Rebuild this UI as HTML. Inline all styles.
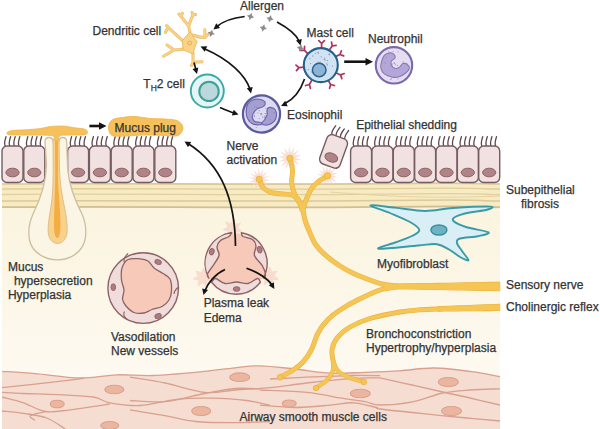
<!DOCTYPE html><html><head><meta charset="utf-8"><style>html,body{margin:0;padding:0;background:#fff;overflow:hidden}svg{display:block}text{font-family:"Liberation Sans",sans-serif;stroke:#333;stroke-width:0.25px}</style></head><body><svg width="600" height="429" viewBox="0 0 600 429" font-family="Liberation Sans, sans-serif" font-size="12" fill="#333333"><rect x="0" y="0" width="600" height="429" fill="#ffffff"/><defs><linearGradient id="cg" x1="0" y1="0" x2="0" y2="1"><stop offset="0" stop-color="#fbf3dd"/><stop offset="0.4" stop-color="#fcf6e6"/><stop offset="1" stop-color="#fefcf8"/></linearGradient></defs><rect x="2" y="183" width="498" height="246" fill="url(#cg)"/><rect x="2" y="183" width="498" height="25" fill="#f7ebc4"/><path d="M2 184 C120 182.8 250 185.2 380 183.6 S470 184.4 500 184" stroke="#dcc898" stroke-width="1.6" fill="none"/><path d="M2 189 C120 187.8 250 190.2 380 188.6 S470 189.4 500 189" stroke="#e0cc9c" stroke-width="1.4" fill="none"/><path d="M2 194.5 C120 193.3 250 195.7 380 194.1 S470 194.9 500 194.5" stroke="#e2cf9f" stroke-width="1.3" fill="none"/><path d="M2 201 C120 199.8 250 202.2 380 200.6 S470 201.4 500 201" stroke="#dcc898" stroke-width="1.5" fill="none"/><path d="M2 207.2 C120 206.0 250 208.39999999999998 380 206.79999999999998 S470 207.6 500 207.2" stroke="#d3bd92" stroke-width="1.8" fill="none"/><path d="M330 192 C380 196 430 199 500 196" stroke="#e6d3a0" stroke-width="1" fill="none"/><path d="M2.0 371.3 C7.5 371.7 22.0 372.6 35.0 373.7 C48.0 374.8 66.4 377.8 80.0 378.0 C93.6 378.2 104.5 375.2 116.7 374.8 C128.9 374.4 139.4 376.0 153.3 375.5 C167.2 375.0 186.4 373.1 200.0 371.8 C213.6 370.5 225.0 368.8 235.0 367.8 C245.0 366.8 250.0 365.6 260.0 365.8 C270.0 366.0 283.3 367.8 295.0 369.0 C306.7 370.2 318.3 372.6 330.0 373.2 C341.7 373.8 353.3 372.7 365.0 372.3 C376.7 371.9 388.5 371.5 400.0 370.8 C411.5 370.1 421.3 367.8 434.2 368.0 C447.1 368.2 466.5 370.9 477.5 372.3 C488.5 373.8 496.2 376.0 500.0 376.7 L500 429 L2 429 Z" fill="#f5ddd2"/><path d="M2.0 371.3 C7.5 371.7 22.0 372.6 35.0 373.7 C48.0 374.8 66.4 377.8 80.0 378.0 C93.6 378.2 104.5 375.2 116.7 374.8 C128.9 374.4 139.4 376.0 153.3 375.5 C167.2 375.0 186.4 373.1 200.0 371.8 C213.6 370.5 225.0 368.8 235.0 367.8 C245.0 366.8 250.0 365.6 260.0 365.8 C270.0 366.0 283.3 367.8 295.0 369.0 C306.7 370.2 318.3 372.6 330.0 373.2 C341.7 373.8 353.3 372.7 365.0 372.3 C376.7 371.9 388.5 371.5 400.0 370.8 C411.5 370.1 421.3 367.8 434.2 368.0 C447.1 368.2 466.5 370.9 477.5 372.3 C488.5 373.8 496.2 376.0 500.0 376.7" stroke="#d9a08d" stroke-width="1.3" fill="none"/><path d="M2.0 387.7 C7.5 387.1 23.7 385.4 35.0 384.2 C46.3 382.9 61.8 381.2 70.0 380.2 C78.2 379.2 81.7 378.4 84.0 378.0" stroke="#d9a08d" stroke-width="1.3" fill="none"/><path d="M2.0 392.3 C5.6 392.5 13.9 393.1 23.3 393.5 C32.7 393.9 46.6 394.1 58.3 394.7 C70.0 395.3 84.7 395.6 93.3 397.0 C101.9 398.4 101.9 401.4 109.7 402.8 C117.5 404.2 128.8 406.1 140.0 405.5 C151.2 404.9 164.8 400.5 176.7 399.3 C188.6 398.1 200.0 398.0 211.7 398.2 C223.4 398.4 237.0 399.3 246.7 400.5 C256.4 401.7 266.1 404.4 270.0 405.2" stroke="#d9a08d" stroke-width="1.3" fill="none"/><path d="M2.0 397.0 C5.6 398.0 16.1 400.4 23.3 402.8 C30.6 405.2 37.7 410.3 45.5 411.5 C53.3 412.7 59.3 411.1 70.0 409.8 C80.7 408.6 103.1 405.0 109.7 404.0" stroke="#d9a08d" stroke-width="1.3" fill="none"/><path d="M2.0 411.0 C5.6 411.4 15.9 412.1 23.3 413.3 C30.8 414.5 39.7 415.4 46.7 418.0 C53.7 420.6 62.2 427.2 65.3 429.0" stroke="#d9a08d" stroke-width="1.3" fill="none"/><path d="M45.5 411.5 C43.0 412.2 32.0 414.2 30.3 415.7 C28.6 417.2 34.2 419.5 35.0 420.3" stroke="#d9a08d" stroke-width="1.3" fill="none"/><path d="M130.0 377.2 C135.8 378.2 152.6 380.5 165.0 383.0 C177.4 385.5 193.0 391.1 204.7 392.3 C216.4 393.5 224.1 390.8 235.0 390.0 C245.9 389.2 258.1 388.9 270.0 387.7 C281.9 386.5 292.8 384.6 306.7 383.0 C320.6 381.4 341.1 379.2 353.3 378.3 C365.5 377.4 375.6 378.0 380.0 377.9" stroke="#d9a08d" stroke-width="1.3" fill="none"/><path d="M130.0 400.5 C135.8 400.7 152.6 402.9 165.0 401.7 C177.4 400.5 193.0 395.7 204.7 393.5 C216.4 391.3 225.8 389.3 235.0 388.5 C244.2 387.7 255.8 388.8 260.0 388.8" stroke="#d9a08d" stroke-width="1.3" fill="none"/><path d="M130.0 409.8 C135.8 410.8 154.1 413.8 165.0 415.7 C175.9 417.6 184.0 420.3 195.3 421.5 C206.6 422.7 220.2 422.7 232.7 422.7 C245.1 422.7 263.8 421.7 270.0 421.5" stroke="#d9a08d" stroke-width="1.3" fill="none"/><path d="M260.0 390.0 C267.8 390.4 293.1 390.9 306.7 392.3 C320.3 393.7 332.0 396.6 341.7 398.2 C351.4 399.8 358.6 400.6 365.0 401.7 C371.4 402.8 372.1 405.0 380.0 405.0 C387.9 405.0 402.0 403.8 412.5 401.8 C423.0 399.8 433.2 395.0 442.8 393.0 C452.4 391.0 460.5 390.7 470.0 390.0 C479.5 389.3 495.0 389.0 500.0 388.8" stroke="#d9a08d" stroke-width="1.3" fill="none"/><path d="M380.0 377.9 C385.3 379.1 401.5 382.6 412.0 385.0 C422.5 387.4 433.1 389.8 442.8 392.0 C452.5 394.2 460.5 395.8 470.0 398.0 C479.5 400.2 495.0 403.8 500.0 405.0" stroke="#d9a08d" stroke-width="1.3" fill="none"/><path d="M260.0 405.2 C265.8 405.6 283.3 407.5 295.0 407.5 C306.7 407.5 320.3 406.0 330.0 405.2 C339.7 404.4 345.5 402.4 353.3 402.8 C361.1 403.2 372.2 406.5 376.7 407.5 C381.1 408.5 372.3 408.0 380.0 409.0 C387.7 410.0 408.6 412.2 423.0 413.7 C437.4 415.2 453.9 416.8 466.7 418.0 C479.5 419.2 494.4 420.5 500.0 421.0" stroke="#d9a08d" stroke-width="1.3" fill="none"/><path d="M270.0 379.0 C276.1 378.7 292.8 377.8 306.7 377.2 C320.6 376.6 341.1 375.8 353.3 375.5 C365.5 375.2 375.6 375.7 380.0 375.7" stroke="#d9a08d" stroke-width="1.3" fill="none"/><ellipse cx="114.3" cy="389.5" rx="9.5" ry="4.3" fill="#ebb6a0" stroke="#dda18b" stroke-width="1.1"/><ellipse cx="57.2" cy="404" rx="7" ry="3.8" fill="#ebb6a0" stroke="#dda18b" stroke-width="1.1"/><ellipse cx="109.7" cy="425.5" rx="9" ry="4" fill="#ebb6a0" stroke="#dda18b" stroke-width="1.1"/><ellipse cx="239.7" cy="377.2" rx="10" ry="4.3" fill="#ebb6a0" stroke="#dda18b" stroke-width="1.1"/><ellipse cx="201.2" cy="411" rx="9.5" ry="4.5" fill="#ebb6a0" stroke="#dda18b" stroke-width="1.1"/><ellipse cx="289.2" cy="403.5" rx="7" ry="3.5" fill="#ebb6a0" stroke="#dda18b" stroke-width="1.1"/><ellipse cx="360.3" cy="393.5" rx="10" ry="4.3" fill="#ebb6a0" stroke="#dda18b" stroke-width="1.1"/><ellipse cx="448.3" cy="382" rx="10" ry="4.5" fill="#ebb6a0" stroke="#dda18b" stroke-width="1.1"/><ellipse cx="451.5" cy="411" rx="10" ry="4.5" fill="#ebb6a0" stroke="#dda18b" stroke-width="1.1"/><path d="M5.2 146 C3.8 143 5.0 140 6.0 136.7" stroke="#5e474b" stroke-width="1.3" fill="none" stroke-linecap="round"/><path d="M9.8 146 C8.4 143 9.6 140 10.6 136.7" stroke="#5e474b" stroke-width="1.3" fill="none" stroke-linecap="round"/><path d="M14.4 146 C13.0 143 14.2 140 15.2 136.7" stroke="#5e474b" stroke-width="1.3" fill="none" stroke-linecap="round"/><path d="M19.0 146 C17.6 143 18.8 140 19.8 136.7" stroke="#5e474b" stroke-width="1.3" fill="none" stroke-linecap="round"/><rect x="2" y="146" width="21" height="36.5" rx="5" fill="#f1e1e1" stroke="#765c60" stroke-width="1.4"/><ellipse cx="12.5" cy="172.5" rx="6.6" ry="4.3" fill="#b08487" stroke="#8d6165" stroke-width="1"/><path d="M27.0 146 C25.6 143 26.8 140 27.8 136.7" stroke="#5e474b" stroke-width="1.3" fill="none" stroke-linecap="round"/><path d="M31.6 146 C30.2 143 31.4 140 32.4 136.7" stroke="#5e474b" stroke-width="1.3" fill="none" stroke-linecap="round"/><path d="M36.2 146 C34.8 143 36.0 140 37.0 136.7" stroke="#5e474b" stroke-width="1.3" fill="none" stroke-linecap="round"/><path d="M40.8 146 C39.4 143 40.6 140 41.6 136.7" stroke="#5e474b" stroke-width="1.3" fill="none" stroke-linecap="round"/><rect x="23.8" y="146" width="21" height="36.5" rx="5" fill="#f1e1e1" stroke="#765c60" stroke-width="1.4"/><ellipse cx="34.3" cy="172.5" rx="6.6" ry="4.3" fill="#b08487" stroke="#8d6165" stroke-width="1"/><path d="M70.8 146 C69.4 143 70.6 140 71.6 136.7" stroke="#5e474b" stroke-width="1.3" fill="none" stroke-linecap="round"/><path d="M75.4 146 C74.0 143 75.2 140 76.2 136.7" stroke="#5e474b" stroke-width="1.3" fill="none" stroke-linecap="round"/><path d="M80.0 146 C78.6 143 79.8 140 80.8 136.7" stroke="#5e474b" stroke-width="1.3" fill="none" stroke-linecap="round"/><path d="M84.6 146 C83.2 143 84.4 140 85.4 136.7" stroke="#5e474b" stroke-width="1.3" fill="none" stroke-linecap="round"/><rect x="67.6" y="146" width="21" height="36.5" rx="5" fill="#f1e1e1" stroke="#765c60" stroke-width="1.4"/><ellipse cx="78.1" cy="172.5" rx="6.6" ry="4.3" fill="#b08487" stroke="#8d6165" stroke-width="1"/><path d="M92.6 146 C91.2 143 92.4 140 93.4 136.7" stroke="#5e474b" stroke-width="1.3" fill="none" stroke-linecap="round"/><path d="M97.2 146 C95.8 143 97.0 140 98.0 136.7" stroke="#5e474b" stroke-width="1.3" fill="none" stroke-linecap="round"/><path d="M101.8 146 C100.4 143 101.6 140 102.6 136.7" stroke="#5e474b" stroke-width="1.3" fill="none" stroke-linecap="round"/><path d="M106.4 146 C105.0 143 106.2 140 107.2 136.7" stroke="#5e474b" stroke-width="1.3" fill="none" stroke-linecap="round"/><rect x="89.4" y="146" width="21" height="36.5" rx="5" fill="#f1e1e1" stroke="#765c60" stroke-width="1.4"/><ellipse cx="99.9" cy="172.5" rx="6.6" ry="4.3" fill="#b08487" stroke="#8d6165" stroke-width="1"/><path d="M114.4 146 C113.0 143 114.2 140 115.2 136.7" stroke="#5e474b" stroke-width="1.3" fill="none" stroke-linecap="round"/><path d="M119.0 146 C117.6 143 118.8 140 119.8 136.7" stroke="#5e474b" stroke-width="1.3" fill="none" stroke-linecap="round"/><path d="M123.6 146 C122.2 143 123.4 140 124.4 136.7" stroke="#5e474b" stroke-width="1.3" fill="none" stroke-linecap="round"/><path d="M128.2 146 C126.8 143 128.0 140 129.0 136.7" stroke="#5e474b" stroke-width="1.3" fill="none" stroke-linecap="round"/><rect x="111.2" y="146" width="21" height="36.5" rx="5" fill="#f1e1e1" stroke="#765c60" stroke-width="1.4"/><ellipse cx="121.7" cy="172.5" rx="6.6" ry="4.3" fill="#b08487" stroke="#8d6165" stroke-width="1"/><path d="M136.2 146 C134.8 143 136.0 140 137.0 136.7" stroke="#5e474b" stroke-width="1.3" fill="none" stroke-linecap="round"/><path d="M140.8 146 C139.4 143 140.6 140 141.6 136.7" stroke="#5e474b" stroke-width="1.3" fill="none" stroke-linecap="round"/><path d="M145.4 146 C144.0 143 145.2 140 146.2 136.7" stroke="#5e474b" stroke-width="1.3" fill="none" stroke-linecap="round"/><path d="M150.0 146 C148.6 143 149.8 140 150.8 136.7" stroke="#5e474b" stroke-width="1.3" fill="none" stroke-linecap="round"/><rect x="133.0" y="146" width="21" height="36.5" rx="5" fill="#f1e1e1" stroke="#765c60" stroke-width="1.4"/><ellipse cx="143.5" cy="172.5" rx="6.6" ry="4.3" fill="#b08487" stroke="#8d6165" stroke-width="1"/><path d="M158.0 146 C156.6 143 157.8 140 158.8 136.7" stroke="#5e474b" stroke-width="1.3" fill="none" stroke-linecap="round"/><path d="M162.6 146 C161.2 143 162.4 140 163.4 136.7" stroke="#5e474b" stroke-width="1.3" fill="none" stroke-linecap="round"/><path d="M167.2 146 C165.8 143 167.0 140 168.0 136.7" stroke="#5e474b" stroke-width="1.3" fill="none" stroke-linecap="round"/><path d="M171.8 146 C170.4 143 171.6 140 172.6 136.7" stroke="#5e474b" stroke-width="1.3" fill="none" stroke-linecap="round"/><rect x="154.8" y="146" width="21" height="36.5" rx="5" fill="#f1e1e1" stroke="#765c60" stroke-width="1.4"/><ellipse cx="165.3" cy="172.5" rx="6.6" ry="4.3" fill="#b08487" stroke="#8d6165" stroke-width="1"/><path d="M353.8 146 C352.4 143 353.6 140 354.6 136.7" stroke="#5e474b" stroke-width="1.3" fill="none" stroke-linecap="round"/><path d="M358.4 146 C357.0 143 358.2 140 359.2 136.7" stroke="#5e474b" stroke-width="1.3" fill="none" stroke-linecap="round"/><path d="M363.0 146 C361.6 143 362.8 140 363.8 136.7" stroke="#5e474b" stroke-width="1.3" fill="none" stroke-linecap="round"/><path d="M367.6 146 C366.2 143 367.4 140 368.4 136.7" stroke="#5e474b" stroke-width="1.3" fill="none" stroke-linecap="round"/><rect x="350.6" y="146" width="21" height="36.5" rx="5" fill="#f1e1e1" stroke="#765c60" stroke-width="1.4"/><ellipse cx="361.1" cy="172.5" rx="6.6" ry="4.3" fill="#b08487" stroke="#8d6165" stroke-width="1"/><path d="M375.2 146 C373.8 143 375.0 140 376.0 136.7" stroke="#5e474b" stroke-width="1.3" fill="none" stroke-linecap="round"/><path d="M379.8 146 C378.4 143 379.6 140 380.6 136.7" stroke="#5e474b" stroke-width="1.3" fill="none" stroke-linecap="round"/><path d="M384.4 146 C383.0 143 384.2 140 385.2 136.7" stroke="#5e474b" stroke-width="1.3" fill="none" stroke-linecap="round"/><path d="M389.0 146 C387.6 143 388.8 140 389.8 136.7" stroke="#5e474b" stroke-width="1.3" fill="none" stroke-linecap="round"/><rect x="371.95000000000005" y="146" width="21" height="36.5" rx="5" fill="#f1e1e1" stroke="#765c60" stroke-width="1.4"/><ellipse cx="382.45000000000005" cy="172.5" rx="6.6" ry="4.3" fill="#b08487" stroke="#8d6165" stroke-width="1"/><path d="M396.5 146 C395.1 143 396.3 140 397.3 136.7" stroke="#5e474b" stroke-width="1.3" fill="none" stroke-linecap="round"/><path d="M401.1 146 C399.7 143 400.9 140 401.9 136.7" stroke="#5e474b" stroke-width="1.3" fill="none" stroke-linecap="round"/><path d="M405.7 146 C404.3 143 405.5 140 406.5 136.7" stroke="#5e474b" stroke-width="1.3" fill="none" stroke-linecap="round"/><path d="M410.3 146 C408.9 143 410.1 140 411.1 136.7" stroke="#5e474b" stroke-width="1.3" fill="none" stroke-linecap="round"/><rect x="393.3" y="146" width="21" height="36.5" rx="5" fill="#f1e1e1" stroke="#765c60" stroke-width="1.4"/><ellipse cx="403.8" cy="172.5" rx="6.6" ry="4.3" fill="#b08487" stroke="#8d6165" stroke-width="1"/><path d="M417.9 146 C416.5 143 417.7 140 418.7 136.7" stroke="#5e474b" stroke-width="1.3" fill="none" stroke-linecap="round"/><path d="M422.5 146 C421.1 143 422.3 140 423.3 136.7" stroke="#5e474b" stroke-width="1.3" fill="none" stroke-linecap="round"/><path d="M427.1 146 C425.7 143 426.9 140 427.9 136.7" stroke="#5e474b" stroke-width="1.3" fill="none" stroke-linecap="round"/><path d="M431.7 146 C430.3 143 431.5 140 432.5 136.7" stroke="#5e474b" stroke-width="1.3" fill="none" stroke-linecap="round"/><rect x="414.65000000000003" y="146" width="21" height="36.5" rx="5" fill="#f1e1e1" stroke="#765c60" stroke-width="1.4"/><ellipse cx="425.15000000000003" cy="172.5" rx="6.6" ry="4.3" fill="#b08487" stroke="#8d6165" stroke-width="1"/><path d="M439.2 146 C437.8 143 439.0 140 440.0 136.7" stroke="#5e474b" stroke-width="1.3" fill="none" stroke-linecap="round"/><path d="M443.8 146 C442.4 143 443.6 140 444.6 136.7" stroke="#5e474b" stroke-width="1.3" fill="none" stroke-linecap="round"/><path d="M448.4 146 C447.0 143 448.2 140 449.2 136.7" stroke="#5e474b" stroke-width="1.3" fill="none" stroke-linecap="round"/><path d="M453.0 146 C451.6 143 452.8 140 453.8 136.7" stroke="#5e474b" stroke-width="1.3" fill="none" stroke-linecap="round"/><rect x="436.0" y="146" width="21" height="36.5" rx="5" fill="#f1e1e1" stroke="#765c60" stroke-width="1.4"/><ellipse cx="446.5" cy="172.5" rx="6.6" ry="4.3" fill="#b08487" stroke="#8d6165" stroke-width="1"/><path d="M460.6 146 C459.2 143 460.4 140 461.4 136.7" stroke="#5e474b" stroke-width="1.3" fill="none" stroke-linecap="round"/><path d="M465.2 146 C463.8 143 465.0 140 466.0 136.7" stroke="#5e474b" stroke-width="1.3" fill="none" stroke-linecap="round"/><path d="M469.8 146 C468.4 143 469.6 140 470.6 136.7" stroke="#5e474b" stroke-width="1.3" fill="none" stroke-linecap="round"/><path d="M474.4 146 C473.0 143 474.2 140 475.2 136.7" stroke="#5e474b" stroke-width="1.3" fill="none" stroke-linecap="round"/><rect x="457.35" y="146" width="21" height="36.5" rx="5" fill="#f1e1e1" stroke="#765c60" stroke-width="1.4"/><ellipse cx="467.85" cy="172.5" rx="6.6" ry="4.3" fill="#b08487" stroke="#8d6165" stroke-width="1"/><path d="M481.9 146 C480.5 143 481.7 140 482.7 136.7" stroke="#5e474b" stroke-width="1.3" fill="none" stroke-linecap="round"/><path d="M486.5 146 C485.1 143 486.3 140 487.3 136.7" stroke="#5e474b" stroke-width="1.3" fill="none" stroke-linecap="round"/><path d="M491.1 146 C489.7 143 490.9 140 491.9 136.7" stroke="#5e474b" stroke-width="1.3" fill="none" stroke-linecap="round"/><path d="M495.7 146 C494.3 143 495.5 140 496.5 136.7" stroke="#5e474b" stroke-width="1.3" fill="none" stroke-linecap="round"/><rect x="478.70000000000005" y="146" width="21" height="36.5" rx="5" fill="#f1e1e1" stroke="#765c60" stroke-width="1.4"/><ellipse cx="489.20000000000005" cy="172.5" rx="6.6" ry="4.3" fill="#b08487" stroke="#8d6165" stroke-width="1"/><g transform="translate(333.6 151.4) rotate(20)"><path d="M-7.6 -15.5 C-9.0 -18.5 -7.8 -21.5 -6.8 -24.8" stroke="#5e474b" stroke-width="1.3" fill="none" stroke-linecap="round"/><path d="M-3.0 -15.5 C-4.4 -18.5 -3.2 -21.5 -2.2 -24.8" stroke="#5e474b" stroke-width="1.3" fill="none" stroke-linecap="round"/><path d="M1.6 -15.5 C0.2 -18.5 1.4 -21.5 2.4 -24.8" stroke="#5e474b" stroke-width="1.3" fill="none" stroke-linecap="round"/><path d="M6.2 -15.5 C4.8 -18.5 6.0 -21.5 7.0 -24.8" stroke="#5e474b" stroke-width="1.3" fill="none" stroke-linecap="round"/><rect x="-10.8" y="-15.5" width="21.5" height="31" rx="5" fill="#f1e1e1" stroke="#765c60" stroke-width="1.4"/><ellipse cx="-0.05000000000000071" cy="6.5" rx="6.6" ry="4.3" fill="#b08487" stroke="#8d6165" stroke-width="1"/></g><path d="M45 142 C45 139 47 137.5 49 137.5 C51 137.5 53 139 53.3 142 L58.6 142 C59 139 61 137.5 62.7 137.5 C64.8 137.5 66.7 139 66.7 142 L67.5 165 C68.5 185 75 200 82 214 C86 223 86.5 232 85 240 C82 252 71 259.8 57.5 259.8 C44 259.8 32 252 29.5 240 C28 232 29 223 33 214 C40 200 46 185 46.5 165 Z" fill="#faf5e4" stroke="#cfbe9f" stroke-width="1.3"/><path d="M53 139 L59 139 L59.5 170 C60 185 62 195 65 210 C67 220 67.5 228 67 233 C66 240 62 243.4 57.6 243.4 C53 243.4 49 240 48.3 233 C47.8 228 48.5 220 50.5 210 C53 195 53 185 53.2 170 Z" fill="#f8d18a" stroke="#dcbb82" stroke-width="0.9"/><path d="M55 132 L57.8 132 L58 180 C58.5 195 60.5 210 60.5 225 C60.5 234 59 238 57.3 238 C55.5 238 54 234 54 225 C54 210 55 195 55.2 180 Z" fill="#f2ae43"/><path d="M7.0 132.5 C7.8 132.2 9.0 130.9 12.0 130.5 C15.0 130.1 20.3 130.1 25.0 129.8 C29.7 129.5 35.8 129.1 40.0 128.5 C44.2 128.0 46.3 126.9 50.0 126.5 C53.7 126.1 57.8 125.8 62.0 126.0 C66.2 126.2 71.3 127.3 75.0 127.8 C78.7 128.3 81.9 128.4 84.0 129.0 C86.1 129.6 87.3 130.5 87.5 131.5 C87.7 132.5 87.6 134.2 85.0 134.8 C82.4 135.4 76.0 134.9 72.0 135.0 C68.0 135.1 62.8 135.2 61.0 135.2 C59 136 58 138 57.8 141 L55 141 C55 138 54 136 52 135.5 C40 135 25 135.3 10 135 C7 134.8 6.5 133.5 7 132.5 Z" fill="#f6c15a" stroke="#eeb14c" stroke-width="0.7"/><path d="M108.5 127.0 C108.5 124.4 109.8 121.6 112.0 120.0 C114.2 118.4 118.2 118.1 122.0 117.5 C125.8 116.9 130.3 116.3 135.0 116.5 C139.7 116.7 145.0 118.1 150.0 118.5 C155.0 118.9 160.3 118.6 165.0 119.0 C169.7 119.4 175.0 119.5 178.0 121.0 C181.0 122.5 183.0 125.6 183.0 128.0 C183.0 130.4 181.0 134.2 178.0 135.5 C175.0 136.8 170.5 135.6 165.0 135.5 C159.5 135.4 151.7 134.9 145.0 135.0 C138.3 135.1 130.5 135.9 125.0 136.0 C119.5 136.1 114.8 137.0 112.0 135.5 C109.2 134.0 108.5 129.6 108.5 127.0 Z" fill="#f6c15a" stroke="#eeb14c" stroke-width="0.8"/><polygon points="270.1,180.8 263.8,181.0 268.3,185.4 262.6,182.8 264.7,188.7 260.7,183.9 260.0,190.2 258.5,184.1 255.2,189.4 256.4,183.3 251.1,186.7 254.9,181.7 248.7,182.4 254.3,179.6 248.3,177.6 254.6,177.4 250.1,173.0 255.8,175.6 253.7,169.7 257.7,174.5 258.4,168.2 259.9,174.3 263.2,169.0 262.0,175.1 267.3,171.7 263.5,176.7 269.7,176.0 264.1,178.8" fill="#f7d3c6" opacity="0.75"/><circle cx="259.2" cy="179.2" r="4.6" fill="#fbe2d8"/><polygon points="301.9,160.1 295.0,160.3 299.9,165.1 293.7,162.3 296.0,168.7 291.6,163.5 290.9,170.3 289.2,163.6 285.6,169.5 287.0,162.8 281.2,166.5 285.3,161.0 278.5,161.8 284.6,158.7 278.1,156.5 285.0,156.3 280.1,151.5 286.3,154.3 284.0,147.9 288.4,153.1 289.1,146.3 290.8,153.0 294.4,147.1 293.0,153.8 298.8,150.1 294.7,155.6 301.5,154.8 295.4,157.9" fill="#f7d3c6" opacity="0.75"/><circle cx="290" cy="158.3" r="5.0" fill="#fbe2d8"/><polygon points="338.4,177.4 332.1,177.6 336.6,182.0 330.9,179.4 333.0,185.3 329.0,180.5 328.3,186.8 326.8,180.7 323.5,186.0 324.7,179.9 319.4,183.3 323.2,178.3 317.0,179.0 322.6,176.2 316.6,174.2 322.9,174.0 318.4,169.6 324.1,172.2 322.0,166.3 326.0,171.1 326.7,164.8 328.2,170.9 331.5,165.6 330.3,171.7 335.6,168.3 331.8,173.3 338.0,172.6 332.4,175.4" fill="#f7d3c6" opacity="0.75"/><circle cx="327.5" cy="175.8" r="4.6" fill="#fbe2d8"/><path d="M259.2 179.2 C259.8 180.6 261.2 185.4 263.0 187.5 C264.8 189.6 267.2 190.9 270.0 192.0 C272.8 193.1 276.4 193.3 280.0 193.8 C283.6 194.3 288.6 194.1 291.7 195.0 C294.8 195.9 297.4 198.8 298.5 199.5" stroke="#e9b141" stroke-width="4.9" fill="none" stroke-linecap="round"/><path d="M290.0 158.3 C290.4 160.2 292.2 165.8 292.5 170.0 C292.8 174.2 291.3 179.1 291.7 183.3 C292.1 187.5 293.6 191.6 295.0 195.0 C296.4 198.4 298.8 201.5 300.0 204.0 C301.2 206.5 301.7 209.0 302.0 210.0" stroke="#e9b141" stroke-width="4.9" fill="none" stroke-linecap="round"/><path d="M327.5 175.8 C326.0 176.8 320.9 179.6 318.3 181.7 C315.7 183.8 313.6 185.5 311.7 188.3 C309.8 191.1 308.1 195.0 306.7 198.3 C305.3 201.6 304.0 206.4 303.5 208.0" stroke="#e9b141" stroke-width="4.9" fill="none" stroke-linecap="round"/><path d="M302.0 204.0 C302.5 206.7 303.8 215.4 305.0 220.0 C306.2 224.6 307.7 227.5 309.5 231.7 C311.3 235.9 313.1 240.9 316.0 245.0 C318.9 249.1 322.6 252.7 326.6 256.2 C330.6 259.7 335.5 263.1 340.0 266.0 C344.5 268.9 348.6 271.1 353.6 273.4 C358.6 275.7 365.1 278.2 370.0 280.0 C374.9 281.8 378.2 283.2 383.0 284.3 C387.8 285.4 396.3 286.0 399.0 286.3" stroke="#e9b141" stroke-width="5.0" fill="none" stroke-linecap="round"/><path d="M399.0 286.5 C395.8 287.1 386.8 287.8 380.0 290.0 C373.2 292.2 364.7 296.5 358.0 299.8 C351.3 303.1 345.1 306.7 340.0 310.0 C334.9 313.3 331.4 315.9 327.7 319.7 C324.0 323.5 320.7 327.9 318.0 333.0 C315.3 338.1 313.8 345.2 311.3 350.0 C308.8 354.8 306.1 358.6 303.0 362.0 C299.9 365.4 296.5 367.8 292.7 370.3 C288.9 372.9 282.1 376.1 280.0 377.3" stroke="#e9b141" stroke-width="4.9" fill="none" stroke-linecap="round"/><path d="M442.0 308.8 C438.3 309.0 427.0 309.3 420.0 309.8 C413.0 310.3 408.3 310.6 400.0 312.0 C391.7 313.4 378.3 316.0 370.0 318.5 C361.7 321.0 355.5 323.8 350.0 327.0 C344.5 330.2 340.0 334.2 337.0 338.0 C334.0 341.8 332.6 345.8 332.0 350.0 C331.4 354.2 333.2 360.8 333.5 363.0" stroke="#e9b141" stroke-width="4.9" fill="none" stroke-linecap="round"/><path d="M333.5 362.0 C333.3 363.7 333.8 368.8 332.5 372.0 C331.2 375.2 328.8 378.3 326.0 381.0 C323.2 383.7 317.7 386.8 316.0 388.0" stroke="#e9b141" stroke-width="4.4" fill="none" stroke-linecap="round"/><path d="M333.5 362.0 C334.2 363.5 335.4 368.4 338.0 371.0 C340.6 373.6 344.7 375.7 349.0 377.5 C353.3 379.3 361.3 381.2 363.8 382.0" stroke="#e9b141" stroke-width="4.4" fill="none" stroke-linecap="round"/><path d="M396.0 284.1 L404.7 283.9 L413.3 283.8 L422.0 283.6 L430.7 283.5 L439.3 283.4 L448.0 283.2 L456.7 283.0 L465.3 282.9 L474.0 282.7 L482.7 282.6 L491.3 282.4 L500.0 282.3 L500.0 290.7 L491.3 290.5 L482.7 290.4 L474.0 290.2 L465.3 290.0 L456.7 289.9 L448.0 289.7 L439.3 289.5 L430.7 289.4 L422.0 289.2 L413.3 289.0 L404.7 288.9 L396.0 288.7 Z" fill="#f5c653" stroke="#e9b141" stroke-width="1.1" stroke-linejoin="round"/><path d="M438.0 306.7 L443.2 306.5 L448.3 306.3 L453.5 306.1 L458.7 305.9 L463.8 305.7 L469.0 305.5 L474.2 305.3 L479.3 305.1 L484.5 304.9 L489.7 304.7 L494.8 304.5 L500.0 304.3 L500.0 310.5 L494.8 310.5 L489.7 310.6 L484.5 310.6 L479.3 310.7 L474.2 310.8 L469.0 310.8 L463.8 310.8 L458.7 310.9 L453.5 310.9 L448.3 311.0 L443.2 311.0 L438.0 311.1 Z" fill="#f5c653" stroke="#e9b141" stroke-width="1.1" stroke-linejoin="round"/><path d="M259.2 179.2 C259.8 180.6 261.2 185.4 263.0 187.5 C264.8 189.6 267.2 190.9 270.0 192.0 C272.8 193.1 276.4 193.3 280.0 193.8 C283.6 194.3 288.6 194.1 291.7 195.0 C294.8 195.9 297.4 198.8 298.5 199.5" stroke="#f5c653" stroke-width="3.8" fill="none" stroke-linecap="round"/><path d="M290.0 158.3 C290.4 160.2 292.2 165.8 292.5 170.0 C292.8 174.2 291.3 179.1 291.7 183.3 C292.1 187.5 293.6 191.6 295.0 195.0 C296.4 198.4 298.8 201.5 300.0 204.0 C301.2 206.5 301.7 209.0 302.0 210.0" stroke="#f5c653" stroke-width="3.8" fill="none" stroke-linecap="round"/><path d="M327.5 175.8 C326.0 176.8 320.9 179.6 318.3 181.7 C315.7 183.8 313.6 185.5 311.7 188.3 C309.8 191.1 308.1 195.0 306.7 198.3 C305.3 201.6 304.0 206.4 303.5 208.0" stroke="#f5c653" stroke-width="3.8" fill="none" stroke-linecap="round"/><path d="M302.0 204.0 C302.5 206.7 303.8 215.4 305.0 220.0 C306.2 224.6 307.7 227.5 309.5 231.7 C311.3 235.9 313.1 240.9 316.0 245.0 C318.9 249.1 322.6 252.7 326.6 256.2 C330.6 259.7 335.5 263.1 340.0 266.0 C344.5 268.9 348.6 271.1 353.6 273.4 C358.6 275.7 365.1 278.2 370.0 280.0 C374.9 281.8 378.2 283.2 383.0 284.3 C387.8 285.4 396.3 286.0 399.0 286.3" stroke="#f5c653" stroke-width="3.9" fill="none" stroke-linecap="round"/><path d="M399.0 286.5 C395.8 287.1 386.8 287.8 380.0 290.0 C373.2 292.2 364.7 296.5 358.0 299.8 C351.3 303.1 345.1 306.7 340.0 310.0 C334.9 313.3 331.4 315.9 327.7 319.7 C324.0 323.5 320.7 327.9 318.0 333.0 C315.3 338.1 313.8 345.2 311.3 350.0 C308.8 354.8 306.1 358.6 303.0 362.0 C299.9 365.4 296.5 367.8 292.7 370.3 C288.9 372.9 282.1 376.1 280.0 377.3" stroke="#f5c653" stroke-width="3.8" fill="none" stroke-linecap="round"/><path d="M442.0 308.8 C438.3 309.0 427.0 309.3 420.0 309.8 C413.0 310.3 408.3 310.6 400.0 312.0 C391.7 313.4 378.3 316.0 370.0 318.5 C361.7 321.0 355.5 323.8 350.0 327.0 C344.5 330.2 340.0 334.2 337.0 338.0 C334.0 341.8 332.6 345.8 332.0 350.0 C331.4 354.2 333.2 360.8 333.5 363.0" stroke="#f5c653" stroke-width="3.8" fill="none" stroke-linecap="round"/><path d="M333.5 362.0 C333.3 363.7 333.8 368.8 332.5 372.0 C331.2 375.2 328.8 378.3 326.0 381.0 C323.2 383.7 317.7 386.8 316.0 388.0" stroke="#f5c653" stroke-width="3.3" fill="none" stroke-linecap="round"/><path d="M333.5 362.0 C334.2 363.5 335.4 368.4 338.0 371.0 C340.6 373.6 344.7 375.7 349.0 377.5 C353.3 379.3 361.3 381.2 363.8 382.0" stroke="#f5c653" stroke-width="3.3" fill="none" stroke-linecap="round"/><path d="M396.0 284.1 L404.7 283.9 L413.3 283.8 L422.0 283.6 L430.7 283.5 L439.3 283.4 L448.0 283.2 L456.7 283.0 L465.3 282.9 L474.0 282.7 L482.7 282.6 L491.3 282.4 L500.0 282.3 L500.0 290.7 L491.3 290.5 L482.7 290.4 L474.0 290.2 L465.3 290.0 L456.7 289.9 L448.0 289.7 L439.3 289.5 L430.7 289.4 L422.0 289.2 L413.3 289.0 L404.7 288.9 L396.0 288.7 Z" fill="#f5c653"/><path d="M438.0 306.7 L443.2 306.5 L448.3 306.3 L453.5 306.1 L458.7 305.9 L463.8 305.7 L469.0 305.5 L474.2 305.3 L479.3 305.1 L484.5 304.9 L489.7 304.7 L494.8 304.5 L500.0 304.3 L500.0 310.5 L494.8 310.5 L489.7 310.6 L484.5 310.6 L479.3 310.7 L474.2 310.8 L469.0 310.8 L463.8 310.8 L458.7 310.9 L453.5 310.9 L448.3 311.0 L443.2 311.0 L438.0 311.1 Z" fill="#f5c653"/><circle cx="259.2" cy="179.2" r="3.2" fill="#f5c653" stroke="#e9b141" stroke-width="0.8"/><circle cx="290" cy="158.3" r="3.2" fill="#f5c653" stroke="#e9b141" stroke-width="0.8"/><circle cx="327.5" cy="175.8" r="3.2" fill="#f5c653" stroke="#e9b141" stroke-width="0.8"/><circle cx="280" cy="377.3" r="2.8" fill="#f5c653" stroke="#e9b141" stroke-width="0.8"/><circle cx="316" cy="388" r="2.8" fill="#f5c653" stroke="#e9b141" stroke-width="0.8"/><circle cx="363.8" cy="382" r="2.8" fill="#f5c653" stroke="#e9b141" stroke-width="0.8"/><rect x="500.5" y="270" width="10" height="50" fill="#ffffff"/><path d="M370.5 205.3 C371.3 204.4 385.9 206.7 395.0 207.6 C404.1 208.5 415.3 210.9 425.0 211.0 C434.7 211.1 442.1 208.7 453.0 208.0 C463.9 207.3 485.0 206.3 490.5 206.6 C496.0 206.9 489.5 209.0 486.0 210.0 C482.5 211.0 474.7 211.4 469.7 212.5 C464.7 213.6 458.7 215.1 456.0 216.5 C453.3 217.9 451.8 219.2 453.5 221.0 C455.2 222.8 460.2 225.1 466.0 227.0 C471.8 228.9 486.5 230.8 488.5 232.3 C490.5 233.8 482.8 235.2 478.0 236.2 C473.2 237.2 463.5 237.4 460.0 238.5 C456.5 239.6 456.7 240.9 457.0 243.0 C457.3 245.1 460.1 248.1 462.0 251.0 C463.9 253.9 468.8 259.2 468.5 260.2 C468.2 261.2 463.2 258.8 460.0 257.0 C456.8 255.2 452.8 251.6 449.0 249.5 C445.2 247.4 442.2 244.9 437.0 244.2 C431.8 243.5 427.7 244.7 418.0 245.5 C408.3 246.3 382.5 249.3 378.7 248.8 C374.9 248.3 389.4 244.6 395.0 242.5 C400.6 240.4 407.9 238.1 412.0 236.0 C416.1 233.9 419.6 232.3 419.3 230.0 C419.0 227.7 414.9 224.8 410.0 222.0 C405.1 219.2 396.6 215.8 390.0 213.0 C383.4 210.2 369.7 206.2 370.5 205.3 Z" fill="#d9eef5" stroke="#3a9ba7" stroke-width="1.9"/><ellipse cx="438.9" cy="230" rx="8" ry="5" fill="#6cb3c3" stroke="#3a8d9b" stroke-width="1.4"/><circle cx="143.2" cy="288.1" r="35.3" fill="#f0dcda" stroke="#8e6366" stroke-width="1.4"/><path d="M128.0 259.5 C131.0 258.0 136.7 258.6 140.0 258.8 C143.3 259.1 145.7 259.5 148.0 261.0 C150.3 262.5 151.5 265.9 154.0 268.0 C156.5 270.1 160.3 271.7 163.0 273.5 C165.7 275.3 168.6 276.1 170.0 279.0 C171.4 281.9 171.7 287.4 171.5 290.9 C171.3 294.4 170.6 297.4 169.0 300.0 C167.4 302.6 164.8 304.9 162.0 306.5 C159.2 308.1 155.0 308.4 152.0 309.5 C149.0 310.6 147.0 312.5 144.0 313.0 C141.0 313.5 137.0 313.7 134.0 312.5 C131.0 311.3 127.9 308.2 126.0 306.0 C124.1 303.8 122.8 301.7 122.5 299.0 C122.2 296.3 124.2 293.2 124.0 290.0 C123.8 286.8 121.8 283.7 121.5 280.0 C121.2 276.3 120.9 271.4 122.0 268.0 C123.1 264.6 125.0 261.0 128.0 259.5 Z" fill="#f6c9b9" stroke="#8e6366" stroke-width="1.3"/><path d="M128.2 253.6 C125 256 123 259 124.5 262.5" stroke="#8e6366" stroke-width="1.2" fill="none"/><path d="M178.6 287 C176 289 174 291 174 294" stroke="#8e6366" stroke-width="1.2" fill="none"/><path d="M127.3 319.8 C124 317 123 314 124.5 311.5" stroke="#8e6366" stroke-width="1.2" fill="none"/><ellipse cx="158.1" cy="262" rx="3.3" ry="2.3" transform="rotate(25 158.1 262)" fill="#b07b7e" stroke="#8e6366" stroke-width="0.9"/><ellipse cx="113.3" cy="287.2" rx="2.3" ry="3.4" transform="rotate(0 113.3 287.2)" fill="#b07b7e" stroke="#8e6366" stroke-width="0.9"/><ellipse cx="158.1" cy="316" rx="3.3" ry="2.3" transform="rotate(-25 158.1 316)" fill="#b07b7e" stroke="#8e6366" stroke-width="0.9"/><polygon points="241.3,231.2 236.0,231.6 236.0,236.9 232.4,233.0 228.2,236.3 229.0,231.0 223.8,229.8 228.4,227.2 226.1,222.4 231.1,224.3 233.4,219.5 235.0,224.6 240.1,223.4 237.2,227.8" fill="#f6cdbf" opacity="0.6" stroke="#f6cdbf" stroke-width="1.5" stroke-linejoin="round"/><polygon points="211.6,280.2 206.3,280.6 206.3,285.9 202.7,282.0 198.5,285.3 199.3,280.0 194.1,278.8 198.7,276.2 196.4,271.4 201.4,273.3 203.7,268.5 205.3,273.6 210.4,272.4 207.5,276.8" fill="#f6cdbf" opacity="0.6" stroke="#f6cdbf" stroke-width="1.5" stroke-linejoin="round"/><polygon points="277.6,279.2 272.3,279.6 272.3,284.9 268.7,281.0 264.5,284.3 265.3,279.0 260.1,277.8 264.7,275.2 262.4,270.4 267.4,272.3 269.7,267.5 271.3,272.6 276.4,271.4 273.5,275.8" fill="#f6cdbf" opacity="0.6" stroke="#f6cdbf" stroke-width="1.5" stroke-linejoin="round"/><circle cx="236" cy="263.2" r="30" fill="#f6c9b9"/><path d="M231.7 232.5 A31 31 0 0 0 208.9 278.2 C208.7 277.5 206.7 276.2 207.5 274.0 C208.3 271.8 211.6 268.1 213.5 265.0 C215.4 261.9 218.4 258.5 219.0 255.5 C219.6 252.5 216.8 249.5 217.0 247.0 C217.2 244.5 218.5 242.2 220.5 240.5 C222.5 238.8 227.1 237.8 229.0 236.5 C230.9 235.2 231.2 233.2 231.7 232.5 Z" fill="#f0dcda" stroke="#8e6366" stroke-width="1.4" stroke-linejoin="round"/><path d="M241.4 232.7 A31 31 0 0 1 263.4 277.8 C263.7 277.3 265.6 277.0 265.5 275.0 C265.4 273.0 264.3 269.2 262.5 266.0 C260.7 262.8 255.6 258.8 254.5 255.5 C253.4 252.2 256.3 248.7 256.0 246.0 C255.7 243.3 254.7 241.1 252.5 239.5 C250.3 237.9 244.9 237.6 243.0 236.5 C241.1 235.4 241.7 233.3 241.4 232.7 Z" fill="#f0dcda" stroke="#8e6366" stroke-width="1.4" stroke-linejoin="round"/><path d="M260.4 282.3 A31 31 0 0 1 211.6 282.3 C212.2 281.7 213.3 278.3 215.5 278.5 C217.7 278.7 221.5 282.9 225.0 283.5 C228.5 284.1 232.7 282.0 236.5 282.0 C240.3 282.0 244.5 284.1 248.0 283.5 C251.5 282.9 255.4 278.7 257.5 278.5 C259.6 278.3 259.9 281.7 260.4 282.3 Z" fill="#f0dcda" stroke="#8e6366" stroke-width="1.4" stroke-linejoin="round"/><ellipse cx="211.8" cy="251.7" rx="2.4" ry="3.4" transform="rotate(15 211.8 251.7)" fill="#b07b7e" stroke="#8e6366" stroke-width="0.9"/><ellipse cx="259.6" cy="249.7" rx="2.4" ry="3.4" transform="rotate(-15 259.6 249.7)" fill="#b07b7e" stroke="#8e6366" stroke-width="0.9"/><ellipse cx="236.6" cy="289" rx="3.4" ry="2.3" transform="rotate(0 236.6 289)" fill="#b07b7e" stroke="#8e6366" stroke-width="0.9"/><path d="M190 33 C189.5 30 189 28 188.7 26.2 M188.7 26.2 C186 22 183 19 181 16.4 M181 16.4 L178.9 14 M181 16.4 L182.4 13.4 M188.7 26.2 C190 22 191.5 18 192.9 15 M192.9 15 L192 12.5 M192.9 15 L195.5 14.5" stroke="#ebbb60" stroke-width="3.0" fill="none" stroke-linecap="round" stroke-linejoin="round"/><path d="M183 41 C178 36 172 31 168.4 27.6 M168.4 27.6 L166.5 25.5 M168.4 27.6 C167 29 166 31 165.3 32.5" stroke="#ebbb60" stroke-width="3.0" fill="none" stroke-linecap="round" stroke-linejoin="round"/><path d="M183.5 49 C180 50 177 50 174 50 M174 50 C171 48 169 46.5 167 45 M174 50 C170 52.5 166.5 54.5 163.5 56.3" stroke="#ebbb60" stroke-width="3.0" fill="none" stroke-linecap="round" stroke-linejoin="round"/><path d="M193 35 C197 36.5 201 37.5 204.8 37.4 M204.8 37.4 C205 34 205 32 204.8 29.7 M204.8 37.4 C206 36 207.5 35.5 208.3 34.6" stroke="#ebbb60" stroke-width="3.0" fill="none" stroke-linecap="round" stroke-linejoin="round"/><path d="M193 53 C193 57 193 60 193 62.6 M193 62.6 L191.5 65.5 M193 62 C196.5 62 199.5 62 202 61.8" stroke="#ebbb60" stroke-width="3.0" fill="none" stroke-linecap="round" stroke-linejoin="round"/><path d="M190 33 C189.5 30 189 28 188.7 26.2 M188.7 26.2 C186 22 183 19 181 16.4 M181 16.4 L178.9 14 M181 16.4 L182.4 13.4 M188.7 26.2 C190 22 191.5 18 192.9 15 M192.9 15 L192 12.5 M192.9 15 L195.5 14.5" stroke="#f9d387" stroke-width="1.7" fill="none" stroke-linecap="round" stroke-linejoin="round"/><path d="M183 41 C178 36 172 31 168.4 27.6 M168.4 27.6 L166.5 25.5 M168.4 27.6 C167 29 166 31 165.3 32.5" stroke="#f9d387" stroke-width="1.7" fill="none" stroke-linecap="round" stroke-linejoin="round"/><path d="M183.5 49 C180 50 177 50 174 50 M174 50 C171 48 169 46.5 167 45 M174 50 C170 52.5 166.5 54.5 163.5 56.3" stroke="#f9d387" stroke-width="1.7" fill="none" stroke-linecap="round" stroke-linejoin="round"/><path d="M193 35 C197 36.5 201 37.5 204.8 37.4 M204.8 37.4 C205 34 205 32 204.8 29.7 M204.8 37.4 C206 36 207.5 35.5 208.3 34.6" stroke="#f9d387" stroke-width="1.7" fill="none" stroke-linecap="round" stroke-linejoin="round"/><path d="M193 53 C193 57 193 60 193 62.6 M193 62.6 L191.5 65.5 M193 62 C196.5 62 199.5 62 202 61.8" stroke="#f9d387" stroke-width="1.7" fill="none" stroke-linecap="round" stroke-linejoin="round"/><path d="M190.1 31.8 C192 35 195 39 197.1 41.6 C195.5 45 194 50 192.9 54.2 C189 52 186 51 183.1 50 C183 47 182.6 44 182.4 40.9 C185 37 188 34 190.1 31.8 Z" fill="#f9d387" stroke="#ebbb60" stroke-width="1"/><circle cx="189.6" cy="43" r="1.9" fill="none" stroke="#e2a94c" stroke-width="0.9"/><circle cx="207.3" cy="91" r="16.5" fill="#e4f5f5" stroke="#3ca9a3" stroke-width="1.9"/><circle cx="209" cy="91.4" r="9.7" fill="#bdd8dc" stroke="#3aa09a" stroke-width="2"/><circle cx="261.5" cy="114" r="18.6" fill="#dddaf2" stroke="#5a5a9f" stroke-width="2.2"/><circle cx="259.2" cy="118.6" r="0.6" fill="#9d97c9"/><circle cx="259.2" cy="110.7" r="0.6" fill="#9d97c9"/><circle cx="253.6" cy="112.2" r="0.6" fill="#9d97c9"/><circle cx="270.9" cy="117.6" r="0.6" fill="#9d97c9"/><circle cx="270.3" cy="116.1" r="0.6" fill="#9d97c9"/><circle cx="265.4" cy="115.8" r="0.6" fill="#9d97c9"/><circle cx="248.5" cy="120.7" r="0.6" fill="#9d97c9"/><circle cx="265.9" cy="118.3" r="0.6" fill="#9d97c9"/><circle cx="250.2" cy="102.3" r="0.6" fill="#9d97c9"/><circle cx="253.9" cy="110.0" r="0.6" fill="#9d97c9"/><circle cx="265.1" cy="113.5" r="0.6" fill="#9d97c9"/><circle cx="265.9" cy="108.5" r="0.6" fill="#9d97c9"/><circle cx="264.4" cy="117.7" r="0.6" fill="#9d97c9"/><circle cx="256.3" cy="127.5" r="0.6" fill="#9d97c9"/><circle cx="266.2" cy="124.1" r="0.6" fill="#9d97c9"/><circle cx="256.2" cy="107.7" r="0.6" fill="#9d97c9"/><circle cx="257.8" cy="112.9" r="0.6" fill="#9d97c9"/><circle cx="267.0" cy="116.2" r="0.6" fill="#9d97c9"/><circle cx="257.7" cy="105.9" r="0.6" fill="#9d97c9"/><circle cx="257.1" cy="124.3" r="0.6" fill="#9d97c9"/><circle cx="254.6" cy="116.1" r="0.6" fill="#9d97c9"/><circle cx="265.0" cy="101.7" r="0.6" fill="#9d97c9"/><circle cx="261.9" cy="125.0" r="0.6" fill="#9d97c9"/><circle cx="246.4" cy="111.6" r="0.6" fill="#9d97c9"/><circle cx="260.6" cy="107.0" r="0.6" fill="#9d97c9"/><circle cx="266.1" cy="113.4" r="0.6" fill="#9d97c9"/><circle cx="249.7" cy="120.7" r="0.6" fill="#9d97c9"/><circle cx="267.2" cy="122.0" r="0.6" fill="#9d97c9"/><circle cx="273.5" cy="117.0" r="0.6" fill="#9d97c9"/><circle cx="262.5" cy="103.0" r="0.6" fill="#9d97c9"/><path d="M246.2 112.5 C246.2 110.1 246.5 106.4 247.7 104.3 C248.9 102.2 251.3 100.5 253.3 99.7 C255.3 98.9 257.7 99.0 259.5 99.2 C261.3 99.5 263.2 100.4 264.1 101.2 C265.0 102.0 265.4 103.3 265.1 104.3 C264.9 105.2 263.9 106.1 262.6 106.9 C261.3 107.7 258.9 108.0 257.4 108.9 C255.9 109.8 254.7 111.1 253.8 112.5 C253.0 113.9 252.2 115.6 252.3 117.1 C252.4 118.5 253.2 120.3 254.4 121.2 C255.6 122.1 258.2 122.0 259.5 122.3 C260.8 122.6 262.0 122.6 262.0 123.0 C262.0 123.4 261.1 124.7 259.5 124.8 C257.9 124.9 254.3 124.8 252.3 123.8 C250.3 122.8 248.7 120.6 247.7 118.7 C246.7 116.8 246.2 114.9 246.2 112.5 Z" fill="#a59ed0" stroke="#6b64aa" stroke-width="1.1"/><path d="M267.2 108.9 C267.8 107.7 269.4 107.2 270.8 107.4 C272.2 107.6 274.5 108.5 275.4 110.0 C276.3 111.5 276.7 114.6 276.4 116.6 C276.1 118.5 275.1 120.3 273.8 121.7 C272.5 123.1 270.4 124.3 268.7 124.8 C267.0 125.3 264.7 125.1 263.6 124.8 C262.5 124.5 261.8 123.6 262.0 122.8 C262.2 122.0 263.7 121.1 264.6 119.7 C265.5 118.3 266.8 116.4 267.2 114.6 C267.6 112.8 266.6 110.1 267.2 108.9 Z" fill="#a59ed0" stroke="#6b64aa" stroke-width="1.1"/><circle cx="254.5" cy="116.1" r="0.55" fill="#8680bb"/><circle cx="266.9" cy="111.2" r="0.55" fill="#8680bb"/><circle cx="253.9" cy="113.6" r="0.55" fill="#8680bb"/><circle cx="264.2" cy="120.1" r="0.55" fill="#8680bb"/><circle cx="254.4" cy="106.5" r="0.55" fill="#8680bb"/><circle cx="264.8" cy="116.2" r="0.55" fill="#8680bb"/><circle cx="270.4" cy="119.7" r="0.55" fill="#8680bb"/><circle cx="261.3" cy="113.5" r="0.55" fill="#8680bb"/><circle cx="274.0" cy="112.6" r="0.55" fill="#8680bb"/><circle cx="257.0" cy="107.4" r="0.55" fill="#8680bb"/><circle cx="261.6" cy="114.2" r="0.55" fill="#8680bb"/><circle cx="260.7" cy="113.9" r="0.55" fill="#8680bb"/><circle cx="262.7" cy="116.9" r="0.55" fill="#8680bb"/><circle cx="267.4" cy="115.1" r="0.55" fill="#8680bb"/><g transform="translate(321.6 43.5) rotate(0)"><path d="M0 5 L0 0 M0 0 L-2.8 -2.8 M0 0 L2.8 -2.8" stroke="#ae3060" stroke-width="1.7" fill="none" stroke-linecap="round"/></g><g transform="translate(332.2 46) rotate(35)"><path d="M0 5 L0 0 M0 0 L-2.8 -2.8 M0 0 L2.8 -2.8" stroke="#ae3060" stroke-width="1.7" fill="none" stroke-linecap="round"/></g><g transform="translate(340 54.5) rotate(65)"><path d="M0 5 L0 0 M0 0 L-2.8 -2.8 M0 0 L2.8 -2.8" stroke="#ae3060" stroke-width="1.7" fill="none" stroke-linecap="round"/></g><g transform="translate(340.5 74.9) rotate(115)"><path d="M0 5 L0 0 M0 0 L-2.8 -2.8 M0 0 L2.8 -2.8" stroke="#ae3060" stroke-width="1.7" fill="none" stroke-linecap="round"/></g><g transform="translate(330.6 84.5) rotate(150)"><path d="M0 5 L0 0 M0 0 L-2.8 -2.8 M0 0 L2.8 -2.8" stroke="#ae3060" stroke-width="1.7" fill="none" stroke-linecap="round"/></g><g transform="translate(309.4 84.5) rotate(-150)"><path d="M0 5 L0 0 M0 0 L-2.8 -2.8 M0 0 L2.8 -2.8" stroke="#ae3060" stroke-width="1.7" fill="none" stroke-linecap="round"/></g><g transform="translate(299 67.6) rotate(-95)"><path d="M0 5 L0 0 M0 0 L-2.8 -2.8 M0 0 L2.8 -2.8" stroke="#ae3060" stroke-width="1.7" fill="none" stroke-linecap="round"/></g><g transform="translate(304.5 50.4) rotate(-45)"><path d="M0 5 L0 0 M0 0 L-2.8 -2.8 M0 0 L2.8 -2.8" stroke="#ae3060" stroke-width="1.7" fill="none" stroke-linecap="round"/></g><circle cx="320.8" cy="65.1" r="17" fill="#cfe3f3" stroke="#26618c" stroke-width="2.1"/><circle cx="321.4" cy="72.7" r="0.65" fill="#a08fa8"/><circle cx="315.0" cy="71.3" r="0.65" fill="#a08fa8"/><circle cx="320.2" cy="64.4" r="0.65" fill="#a08fa8"/><circle cx="332.5" cy="66.1" r="0.65" fill="#a08fa8"/><circle cx="320.6" cy="68.4" r="0.65" fill="#a08fa8"/><circle cx="327.4" cy="64.9" r="0.65" fill="#a08fa8"/><circle cx="324.2" cy="59.4" r="0.65" fill="#a08fa8"/><circle cx="319.4" cy="63.5" r="0.65" fill="#a08fa8"/><circle cx="312.8" cy="56.0" r="0.65" fill="#a08fa8"/><circle cx="310.5" cy="63.6" r="0.65" fill="#a08fa8"/><circle cx="320.4" cy="64.3" r="0.65" fill="#a08fa8"/><circle cx="321.2" cy="56.8" r="0.65" fill="#a08fa8"/><circle cx="320.7" cy="65.5" r="0.65" fill="#a08fa8"/><circle cx="325.2" cy="60.1" r="0.65" fill="#a08fa8"/><circle cx="318.4" cy="53.0" r="0.65" fill="#a08fa8"/><circle cx="317.9" cy="52.5" r="0.65" fill="#a08fa8"/><circle cx="311.9" cy="72.0" r="0.65" fill="#a08fa8"/><circle cx="308.5" cy="69.6" r="0.65" fill="#a08fa8"/><circle cx="321.8" cy="64.2" r="0.65" fill="#a08fa8"/><circle cx="322.8" cy="67.4" r="0.65" fill="#a08fa8"/><circle cx="326.8" cy="63.8" r="0.65" fill="#a08fa8"/><circle cx="317.9" cy="62.1" r="0.65" fill="#a08fa8"/><circle cx="315.4" cy="64.9" r="0.65" fill="#a08fa8"/><circle cx="315.9" cy="71.7" r="0.65" fill="#a08fa8"/><circle cx="309.9" cy="58.7" r="0.65" fill="#a08fa8"/><circle cx="315.4" cy="53.3" r="0.65" fill="#a08fa8"/><circle cx="329.4" cy="54.2" r="0.65" fill="#a08fa8"/><circle cx="319.7" cy="63.1" r="0.65" fill="#a08fa8"/><circle cx="329.4" cy="54.7" r="0.65" fill="#a08fa8"/><circle cx="327.4" cy="60.6" r="0.65" fill="#a08fa8"/><circle cx="320.1" cy="62.2" r="0.65" fill="#a08fa8"/><circle cx="324.7" cy="58.1" r="0.65" fill="#a08fa8"/><circle cx="320.6" cy="66.0" r="0.65" fill="#a08fa8"/><circle cx="329.2" cy="54.1" r="0.65" fill="#a08fa8"/><circle cx="319.2" cy="70" r="6.8" fill="#8db4d4" stroke="#2b6290" stroke-width="1.5"/><path d="M250.5 12.7 L251.754 15.246 L254.3 16.5 L251.754 17.754 L250.5 20.3 L249.246 17.754 L246.7 16.5 L249.246 15.246 Z" fill="#8f8b8b" transform="rotate(15 250.5 16.5)"/><path d="M270 14.899999999999999 L271.254 17.445999999999998 L273.8 18.7 L271.254 19.954 L270 22.5 L268.746 19.954 L266.2 18.7 L268.746 17.445999999999998 Z" fill="#8f8b8b" transform="rotate(15 270 18.7)"/><path d="M263.3 24.2 L264.55400000000003 26.746 L267.1 28 L264.55400000000003 29.254 L263.3 31.8 L262.046 29.254 L259.5 28 L262.046 26.746 Z" fill="#8f8b8b" transform="rotate(15 263.3 28)"/><path d="M211.3 29.499999999999996 L212.554 32.046 L215.10000000000002 33.3 L212.554 34.553999999999995 L211.3 37.099999999999994 L210.04600000000002 34.553999999999995 L207.5 33.3 L210.04600000000002 32.046 Z" fill="#8f8b8b" transform="rotate(15 211.3 33.3)"/><path d="M300.4 44.2 L301.654 46.746 L304.2 48 L301.654 49.254 L300.4 51.8 L299.14599999999996 49.254 L296.59999999999997 48 L299.14599999999996 46.746 Z" fill="#8f8b8b" transform="rotate(15 300.4 48)"/><circle cx="394" cy="65.3" r="18.2" fill="#e6ddf1" stroke="#7a6aab" stroke-width="2.1"/><path d="M389.9 52.9 C391.5 52.7 393.1 53.4 394.0 54.3 C394.9 55.1 395.5 56.8 395.0 58.0 C394.5 59.2 391.8 60.0 391.2 61.3 C390.6 62.5 391.1 64.3 391.7 65.5 C392.2 66.7 393.2 68.0 394.5 68.3 C395.8 68.6 397.8 68.2 399.2 67.4 C400.6 66.6 401.5 64.1 402.9 63.6 C404.3 63.1 406.5 63.8 407.6 64.6 C408.7 65.4 409.7 66.9 409.4 68.3 C409.1 69.7 407.4 71.6 405.7 73.0 C404.0 74.4 401.4 76.0 399.2 76.7 C397.0 77.4 395.1 77.7 392.6 77.2 C390.1 76.7 386.2 75.4 384.3 73.9 C382.4 72.4 381.5 70.3 381.0 68.3 C380.5 66.3 380.9 64.0 381.5 61.8 C382.1 59.6 382.9 56.8 384.3 55.3 C385.7 53.8 388.3 53.1 389.9 52.9 Z" fill="#b4a7d7" stroke="#8779b6" stroke-width="1.1"/><circle cx="386.0" cy="57.5" r="0.55" fill="#9488c2"/><circle cx="398.0" cy="51.7" r="0.55" fill="#9488c2"/><circle cx="393.1" cy="51.5" r="0.55" fill="#9488c2"/><circle cx="400.9" cy="66.6" r="0.55" fill="#9488c2"/><circle cx="403.1" cy="61.9" r="0.55" fill="#9488c2"/><circle cx="395.4" cy="64.3" r="0.55" fill="#9488c2"/><circle cx="390.4" cy="66.0" r="0.55" fill="#9488c2"/><circle cx="385.7" cy="63.0" r="0.55" fill="#9488c2"/><circle cx="397.2" cy="65.6" r="0.55" fill="#9488c2"/><circle cx="391.5" cy="78.8" r="0.55" fill="#9488c2"/><circle cx="394.2" cy="62.9" r="0.55" fill="#9488c2"/><circle cx="394.6" cy="63.3" r="0.55" fill="#9488c2"/><circle cx="392.6" cy="64.0" r="0.55" fill="#9488c2"/><circle cx="407.1" cy="65.4" r="0.55" fill="#9488c2"/><circle cx="394.8" cy="68.4" r="0.55" fill="#9488c2"/><circle cx="407.0" cy="63.9" r="0.55" fill="#9488c2"/><circle cx="390.5" cy="79.3" r="0.55" fill="#9488c2"/><circle cx="384.1" cy="62.8" r="0.55" fill="#9488c2"/><circle cx="398.0" cy="78.8" r="0.55" fill="#9488c2"/><circle cx="388.7" cy="51.8" r="0.55" fill="#9488c2"/><path d="M244.7 16.5 C232 18 222 22 217 26.5" stroke="#141414" stroke-width="1.7" fill="none"/><path d="M213.5 29.5 L216.2 23.3 L220.0 27.9 Z" fill="#141414"/><path d="M277 22 C288 28 296 34 299 41" stroke="#141414" stroke-width="1.7" fill="none"/><path d="M300.5 45.5 L296.0 40.5 L301.8 38.9 Z" fill="#141414"/><path d="M194 62.5 L196 70" stroke="#141414" stroke-width="1.7" fill="none"/><path d="M197.0 74.0 L192.5 69.0 L198.3 67.4 Z" fill="#141414"/><path d="M205 49 C230 60 245 75 250 89" stroke="#141414" stroke-width="1.7" fill="none"/><path d="M251.0 93.5 L246.8 88.3 L252.7 87.0 Z" fill="#141414"/><path d="M200.5 46.5 L207.2 46.3 L204.7 51.8 Z" fill="#141414"/><path d="M220 107.5 C226 110 231 112 234 113" stroke="#141414" stroke-width="1.7" fill="none"/><path d="M238.5 114.5 L231.9 115.5 L233.7 109.8 Z" fill="#141414"/><path d="M304.5 79 C300 92 292 100 285 103.5" stroke="#141414" stroke-width="1.7" fill="none"/><path d="M281.0 106.0 L285.2 100.7 L287.7 106.2 Z" fill="#141414"/><path d="M344.2 61.7 L366 61.7" stroke="#141414" stroke-width="2.6"/><path d="M373.0 61.7 L365.5 65.5 L365.5 58.0 Z" fill="#141414"/><path d="M89.4 126 L100 126" stroke="#141414" stroke-width="2.6"/><path d="M106.5 126.0 L99.0 129.8 L99.0 122.2 Z" fill="#141414"/><path d="M235.5 246 C235 200 222 165 188 143.5" stroke="#141414" stroke-width="1.7" fill="none"/><path d="M184.5 141.5 L191.2 142.1 L188.0 147.2 Z" fill="#141414"/><path d="M225 269.5 C215 274 208 283 205 290.5" stroke="#141414" stroke-width="1.7" fill="none"/><path d="M203.5 295.0 L202.2 288.4 L208.0 290.0 Z" fill="#141414"/><path d="M246.5 268.2 C258 272 268 279 272 285" stroke="#141414" stroke-width="1.7" fill="none"/><path d="M274.3 289.0 L268.7 285.3 L273.9 282.3 Z" fill="#141414"/><text x="240" y="10">Allergen</text><text x="92.5" y="34.9">Dendritic cell</text><text x="306.5" y="37.3">Mast cell</text><text x="368" y="43.1">Neutrophil</text><text x="287" y="119">Eosinophil</text><text x="114.6" y="131.5">Mucus plug</text><text x="356.2" y="129">Epithelial shedding</text><text x="226.5" y="149.7">Nerve</text><text x="226.5" y="163.5">activation</text><text x="506" y="193.5">Subepithelial</text><text x="521" y="207.5">fibrosis</text><text x="377" y="267.6">Myofibroblast</text><text x="8" y="271">Mucus</text><text x="13.9" y="285">hypersecretion</text><text x="7.9" y="299">Hyperplasia</text><text x="506" y="289.4">Sensory nerve</text><text x="506" y="311">Cholinergic reflex</text><text x="203.7" y="306.8">Plasma leak</text><text x="203.7" y="321.8">Edema</text><text x="111" y="340.5">Vasodilation</text><text x="111" y="354.5">New vessels</text><text x="366" y="338.2">Bronchoconstriction</text><text x="366" y="352.2">Hypertrophy/hyperplasia</text><text x="239.5" y="420.8">Airway smooth muscle cells</text><text x="143.3" y="88">T<tspan font-size="8.5" dy="2.6">H</tspan><tspan dy="-2.6">2 cell</tspan></text></svg></body></html>
